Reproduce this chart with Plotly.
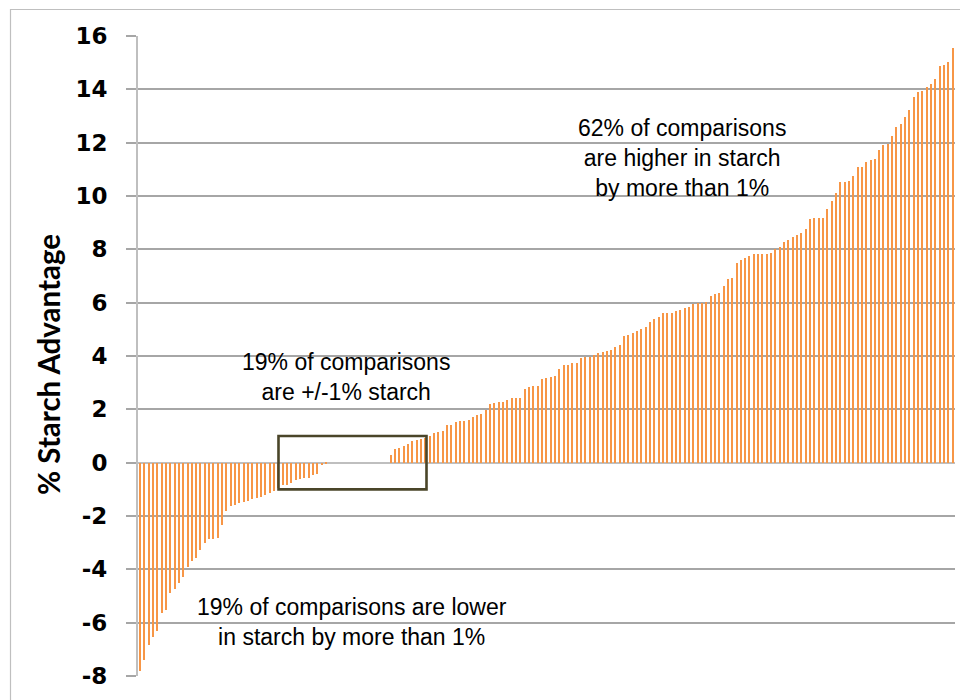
import plotly.graph_objects as go

# ---- data (sorted % starch advantage per comparison) ----
neg_values = [-7.81, -7.41, -6.83, -6.52, -6.33, -5.62, -5.52, -4.87, -4.75, -4.52,
              -4.27, -3.90, -3.68, -3.59, -3.28, -3.03, -2.88, -2.88, -2.84, -2.34,
              -1.81, -1.62, -1.57, -1.53, -1.48, -1.44, -1.38, -1.31, -1.28, -1.22,
              -1.13, -1.05, -0.95,
              -0.85, -0.82, -0.76, -0.66, -0.62, -0.57, -0.56, -0.47, -0.41, -0.08, -0.04]
zero_values = [0.0] * 14
pos_values = [0.30, 0.50, 0.55, 0.62, 0.71, 0.80, 0.86, 0.87, 0.92, 1.00,
              1.12, 1.15, 1.17, 1.42, 1.42, 1.52,
              1.55, 1.57, 1.61, 1.73, 1.79, 1.83, 1.96, 2.21, 2.24, 2.29,
              2.29, 2.36, 2.43, 2.43, 2.43, 2.77, 2.85, 2.87, 2.89, 3.14,
              3.17, 3.20, 3.25, 3.51, 3.66, 3.66, 3.73, 3.73, 3.93, 3.97,
              3.97, 4.04, 4.10, 4.16, 4.20, 4.24, 4.34, 4.41, 4.76, 4.80,
              4.86, 4.95,
              5.03, 5.07, 5.26, 5.38, 5.45, 5.61, 5.61, 5.63, 5.69, 5.73,
              5.79, 5.84, 5.94, 5.98, 6.00, 6.03, 6.25, 6.34, 6.38, 6.63,
              6.88, 6.94, 7.48, 7.59, 7.66, 7.75, 7.81, 7.81, 7.81, 7.81,
              7.85, 8.03, 8.09, 8.29, 8.35,
              8.47, 8.54, 8.60, 8.77, 9.15, 9.16, 9.18, 9.18, 9.52, 9.83,
              10.12, 10.52, 10.54, 10.58, 10.74, 11.09, 11.09, 11.28, 11.34, 11.40,
              11.74, 11.93, 11.95, 12.26, 12.57, 12.70, 12.98, 13.21, 13.71, 13.90,
              13.94, 14.08, 14.19, 14.39, 14.88, 14.92, 15.04, 15.54]

values = neg_values + zero_values + pos_values
comparisons = list(range(1, len(values) + 1))

tick_vals = [16, 14, 12, 10, 8, 6, 4, 2, 0, -2, -4, -6, -8]
tick_text = ["16", "14", "12", "10", "8", "6", "4", "2", "0", "-2", "-4", "-6", "-8"]

y_title = "% Starch Advantage"
ann_high = "62% of comparisons<br>are higher in starch<br>by more than 1%"
ann_mid = "19% of comparisons<br>are +/-1% starch"
ann_low = "19% of comparisons are lower<br>in starch by more than 1%"

# ---- figure ----
fig = go.Figure()
fig.add_trace(go.Bar(
    x=comparisons, y=values, width=0.32,
    marker=dict(color="#F79646", line=dict(width=0)),
    showlegend=False, hoverinfo="y",
))

L, R, T, B = 138, 5, 36, 24
W = 960 - L - R
H = 700 - T - B

def px_x(p):
    return (p - L) / W

def px_y(p):
    return (700 - B - p) / H

ann_font = dict(family="Liberation Sans, Arial, sans-serif", size=23, color="#000000")

def text_ann(cx, cy, txt):
    return dict(x=px_x(cx), xref="paper", y=px_y(cy), yref="paper", text=txt,
                showarrow=False, font=ann_font, align="center",
                xanchor="center", yanchor="middle")

annotations = [
    text_ann(682, 158, ann_high),
    text_ann(346, 377, ann_mid),
    text_ann(352, 622, ann_low),
    dict(x=px_x(48), xref="paper", y=px_y(365), yref="paper", text=y_title,
         showarrow=False, textangle=-90, xanchor="center", yanchor="middle",
         font=dict(family="Lato", size=29.5, color="#000000", weight="bold")),
]

def white_box(x0, x1, y0, y1):
    return dict(type="rect", xref="paper", yref="paper",
                x0=px_x(x0), x1=px_x(x1), y0=px_y(y1), y1=px_y(y0),
                line=dict(width=0), fillcolor="#FFFFFF", layer="below")

shapes = [
    # chart area frame
    dict(type="rect", xref="paper", yref="paper",
         x0=px_x(10.5), x1=px_x(964), y0=px_y(706), y1=px_y(9.5),
         line=dict(color="#BFBFBF", width=1.2), fillcolor="rgba(0,0,0,0)", layer="below"),
    # text boxes hiding gridlines
    white_box(558, 806, 110, 206),
    white_box(213, 466, 339, 415),
    white_box(183, 520, 587, 657),
    # +/-1% box
    dict(type="rect", xref="paper", yref="y",
         x0=px_x(278.5), x1=px_x(426.5), y0=-1, y1=1,
         line=dict(color="#4A4529", width=2.6), fillcolor="rgba(0,0,0,0)", layer="above"),
]

fig.update_layout(
    width=960, height=700,
    margin=dict(l=L, r=R, t=T, b=B, pad=0),
    paper_bgcolor="#FFFFFF", plot_bgcolor="#FFFFFF",
    bargap=0,
    annotations=annotations,
    shapes=shapes,
)

fig.update_xaxes(
    range=[0.5, len(values) + 0.5],
    showticklabels=False, showgrid=False, zeroline=False,
    ticks="", showline=False,
)

fig.update_yaxes(
    range=[-8, 16],
    tickmode="array", tickvals=tick_vals, ticktext=tick_text,
    tickfont=dict(family="DejaVu Sans", size=23, color="#000000", weight="bold"),
    ticks="outside", ticklen=10, tickwidth=1.5, tickcolor="#A6A6A6",
    ticklabelstandoff=14,
    showgrid=True, gridcolor="#A6A6A6", gridwidth=1.6,
    zeroline=True, zerolinecolor="#BFBFBF", zerolinewidth=2,
    showline=True, linecolor="#BFBFBF", linewidth=2,
)

fig.write_html(
    "out.html",
    config={"displayModeBar": False},
    post_script="document.body.style.margin='0px';document.body.style.overflow='hidden';",
)
